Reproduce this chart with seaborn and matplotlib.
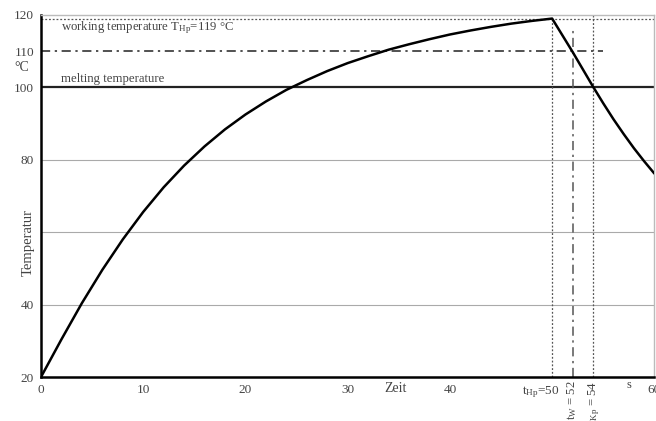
import matplotlib.pyplot as plt
from matplotlib.transforms import ScaledTranslation
import numpy as np
import pandas as pd
import seaborn as sns

#%% Data
zeit = [0, 2, 4, 6, 8, 10, 12, 14, 16, 18, 20, 22, 24, 26, 28, 30, 32, 34, 36,
        38, 40, 42, 44, 46, 48, 50, 51, 52, 53, 54, 55, 56, 57, 58, 59, 60]
temperatur = [20, 30.4, 40.4, 49.6, 58.0, 65.6, 72.4, 78.4, 83.7, 88.4, 92.5,
              96.1, 99.3, 102.0, 104.5, 106.7, 108.6, 110.4, 111.9, 113.3,
              114.6, 115.7, 116.7, 117.6, 118.35, 119, 114.4, 109.8, 105,
              100.2, 95.6, 91.2, 87.1, 83.2, 79.6, 76.2]

t_hp, t_w, t_kp = 50, 52, 54
T_work, T_110, T_melt = 119, 110, 100

ytick_vals = [20, 40, 60, 80, 100, 110, 120]
ytick_labels = ['20', '40', '', '80', '100', '110', '120']
xtick_vals = [0, 10, 20, 30, 40, 50, 60]
xtick_labels = ['0', '10', '20', '30', '40', r'$\mathregular{t_{Hp}}$=50', '60']

df = pd.DataFrame({'Zeit': zeit, 'Temperatur': temperatur})

#%% Plot
sns.set_style('white')
plt.rcParams['font.family'] = ['Liberation Serif', 'DejaVu Serif']
plt.rcParams['mathtext.fontset'] = 'custom'
plt.rcParams['mathtext.rm'] = 'Liberation Serif'
plt.rcParams['mathtext.it'] = 'Liberation Serif'

txt = '#444444'
fig = plt.figure(figsize=(6.56, 4.21), dpi=100)
ax = fig.add_axes([0.0625, 0.1045, 0.935, 0.86])

# grid and reference lines
for y in [40, 60, 80]:
    ax.axhline(y, color='#aaaaaa', lw=0.8, zorder=1)
ax.axhline(T_melt, color='#222222', lw=1.6, zorder=2)
ax.axhline(T_work, color='#555555', lw=0.9, ls=(0, (1.5, 1.5)), zorder=2)
ax.plot([0, 55], [T_110, T_110], color='#222222', lw=1.1,
        ls=(0, (6, 3, 1.5, 3)), zorder=2)
ax.plot([t_hp, t_hp], [20, T_work], color='#555555', lw=0.9, ls=(0, (1.5, 1.5)))
ax.plot([t_w, t_w], [20, 116], color='#555555', lw=1.1, ls=(0, (6, 3, 1.5, 3)))
ax.plot([t_kp, t_kp], [20, 120], color='#555555', lw=0.9, ls=(0, (1.5, 1.5)))

sns.lineplot(data=df, x='Zeit', y='Temperatur', color='black', lw=1.8, ax=ax,
             zorder=5)

ax.set_xlim(0, 60)
ax.set_ylim(20, 120)
ax.set_xticks(xtick_vals)
ax.set_xticklabels(xtick_labels)
ax.set_yticks(ytick_vals)
ax.set_yticklabels(ytick_labels)
ax.tick_params(axis='both', direction='inout', length=4, width=1.2,
               labelsize=9.5, labelcolor=txt, color='black', pad=3)
# t_Hp label sits a little left of its tick
lab = ax.xaxis.get_ticklabels()[5]
lab.set_transform(lab.get_transform() + ScaledTranslation(-0.11, 0, fig.dpi_scale_trans))
ax.set_xlabel('')
ax.set_ylabel('')

for side in ['left', 'bottom']:
    ax.spines[side].set_color('black')
    ax.spines[side].set_linewidth(1.8)
for side in ['top', 'right']:
    ax.spines[side].set_color('#bbbbbb')
    ax.spines[side].set_linewidth(1)

# annotations
ax.text(2, 116.4, r'working temperature $\mathregular{T_{Hp}}$=119 °C',
        fontsize=9.2, color=txt, va='center')
ax.text(2, 102.3, 'melting temperature', fontsize=9.2, color=txt, va='center')
fig.text(0.022, 0.84, '°C', fontsize=10, color=txt, va='center')
fig.text(0.043, 0.425, 'Temperatur', fontsize=10.5, color=txt, rotation=90,
         va='center', ha='center')
fig.text(0.603, 0.078, 'Zeit', fontsize=10, color=txt, ha='center', va='center')
fig.text(0.958, 0.085, 's', fontsize=9, color=txt, ha='center', va='center')
fig.text(0.872, 0.096, r'$\mathregular{t_W}$ = 52', fontsize=9.2, color=txt,
         rotation=90, ha='center', va='top')
fig.text(0.905, 0.096, r'$\mathregular{t_{Kp}}$ = 54', fontsize=9.2, color=txt,
         rotation=90, ha='center', va='top')

plt.savefig('out.png', dpi=100)
